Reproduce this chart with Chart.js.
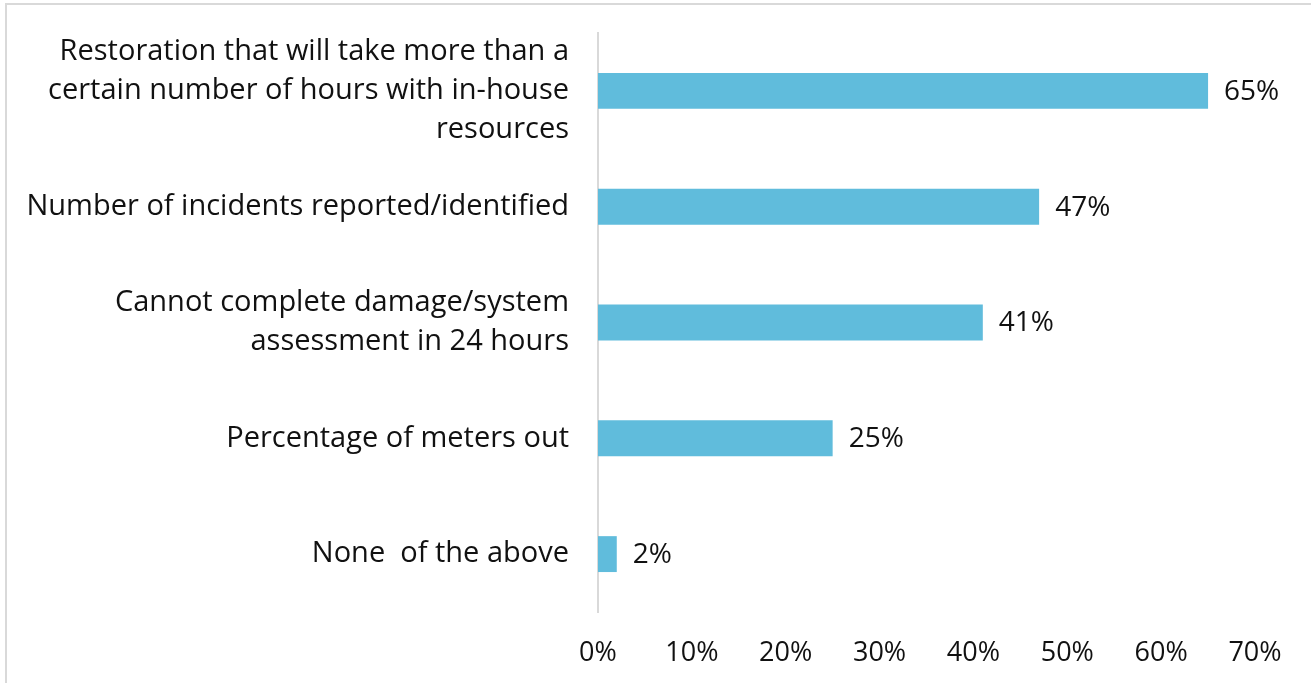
<!DOCTYPE html>
<html><head><meta charset="utf-8">
<script src="https://cdn.jsdelivr.net/npm/chart.js@4/dist/chart.umd.min.js"></script>
<style>
html,body{margin:0;padding:0;background:#fff;width:1311px;height:683px;overflow:hidden;}
#frame{position:absolute;left:5px;top:3px;width:1320px;height:700px;border-top:2px solid #d9d9d9;border-left:2px solid #d9d9d9;}
#wrap{position:absolute;left:0;top:0;width:1311px;height:683px;}
</style></head>
<body>
<div id="frame"></div>
<div id="wrap"><canvas id="c" width="1311" height="683"></canvas></div>
<script>
const categories = [
  ["Restoration that will take more than a","certain number of hours with in-house","resources"],
  "Number of incidents reported/identified",
  ["Cannot complete damage/system","assessment in 24 hours"],
  "Percentage of meters out",
  "None  of the above"
];
const values = [65, 47, 41, 25, 2];
const tickValues = [0, 10, 20, 30, 40, 50, 60, 70];

const valueLabels = {
  id: 'valueLabels',
  afterDatasetsDraw(chart) {
    const ctx = chart.ctx;
    const meta = chart.getDatasetMeta(0);
    ctx.save();
    ctx.font = '28px "Open Sans", sans-serif';
    ctx.fillStyle = '#111111';
    ctx.textAlign = 'left';
    ctx.textBaseline = 'middle';
    meta.data.forEach((bar, i) => {
      ctx.fillText(values[i] + '%', bar.x + 16, bar.y + 1);
    });
    ctx.restore();
  }
};

new Chart(document.getElementById('c'), {
  type: 'bar',
  data: {
    labels: categories,
    datasets: [{
      data: values,
      backgroundColor: '#60bcdc',
      borderWidth: 0,
      categoryPercentage: 1,
      barPercentage: 0.31
    }]
  },
  options: {
    indexAxis: 'y',
    responsive: false,
    animation: false,
    layout: { padding: { top: 33, right: 56, left: 0, bottom: 0 } },
    plugins: { legend: { display: false }, tooltip: { enabled: false } },
    scales: {
      x: {
        min: 0, max: 70,
        afterBuildTicks(scale) { scale.ticks = tickValues.map(v => ({ value: v })); },
        afterFit(scale) { scale.height = 71; scale.paddingLeft = 0; scale.paddingRight = 0; },
        grid: { display: false, drawTicks: false },
        border: { display: false },
        ticks: {
          padding: 25,
          color: '#111111',
          maxRotation: 0,
          autoSkip: false,
          font: { family: '"Open Sans", sans-serif', size: 27 },
          callback: v => v + '%'
        }
      },
      y: {
        afterFit(scale) { scale.width = 598; scale.paddingTop = 0; scale.paddingBottom = 0; },
        grid: { display: false, drawTicks: false },
        border: { display: true, color: '#d9d9d9', width: 2 },
        ticks: {
          padding: 29,
          color: '#111111',
          autoSkip: false,
          font: { family: '"Open Sans", sans-serif', size: 29, lineHeight: 1.345 }
        }
      }
    }
  },
  plugins: [valueLabels]
});
</script>
</body></html>
